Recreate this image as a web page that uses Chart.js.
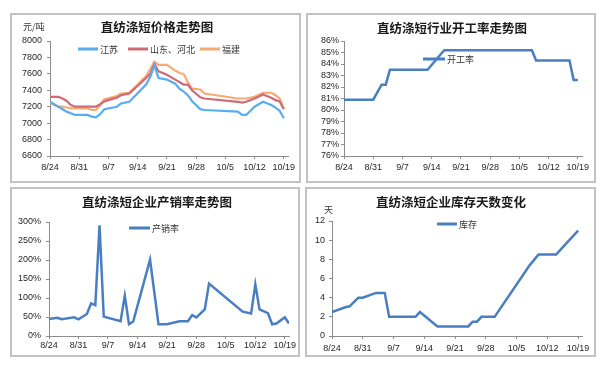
<!DOCTYPE html>
<html>
<head>
<meta charset="utf-8">
<script src="https://cdn.jsdelivr.net/npm/chart.js@4.4.0/dist/chart.umd.min.js"></script>
<style>
  html, body { margin:0; padding:0; background:#fff; }
  body { width:609px; height:368px; position:relative; overflow:hidden;
         font-family:"Noto Sans CJK SC","Noto Sans",sans-serif; }
  .panel { position:absolute; box-sizing:border-box; border:2px solid #c2c2c2; }
  .panel canvas { position:absolute; left:0; top:0; }
  .txt { position:absolute; white-space:nowrap; color:#1a1a1a; line-height:1; }
  .title { font-size:12.5px; font-weight:bold; transform:translate(-50%,-50%); }
  .legend { font-size:9px; color:#333; transform:translateY(-50%); display:flex; align-items:center; }
  .legend i { display:inline-block; width:20px; height:2.5px; margin-right:2px; }
  .unit { font-size:9px; color:#333; transform:translateY(-50%); }
</style>
</head>
<body>

<div class="panel" style="left:10px;top:13px;width:291px;height:170px"><canvas id="cPrice" width="287" height="166"></canvas></div>
<div class="panel" style="left:306px;top:13px;width:290px;height:170px"><canvas id="cRate" width="286" height="166"></canvas></div>
<div class="panel" style="left:10px;top:187px;width:290px;height:170px"><canvas id="cSales" width="286" height="166"></canvas></div>
<div class="panel" style="left:305px;top:187px;width:291px;height:170px"><canvas id="cStock" width="287" height="166"></canvas></div>

<div class="txt title" style="left:157px;top:27px">直纺涤短价格走势图</div>
<div class="txt title" style="left:452px;top:28px">直纺涤短行业开工率走势图</div>
<div class="txt title" style="left:157px;top:202px">直纺涤短企业产销率走势图</div>
<div class="txt title" style="left:451px;top:202px">直纺涤短企业库存天数变化</div>

<div class="txt unit" style="left:23px;top:26px">元/吨</div>
<div class="txt unit" style="left:324px;top:209px">天</div>

<div class="txt legend" style="left:78px;top:49px"><i style="background:#58acf0"></i>江苏</div>
<div class="txt legend" style="left:128px;top:49px"><i style="background:#cf6a76"></i>山东、河北</div>
<div class="txt legend" style="left:200px;top:49px"><i style="background:#f7aa72"></i>福建</div>
<div class="txt legend" style="left:423px;top:59px"><i style="background:#4a7ec2;width:22px"></i>开工率</div>
<div class="txt legend" style="left:129px;top:228px"><i style="background:#4a7ec2;width:21px"></i>产销率</div>
<div class="txt legend" style="left:437px;top:224px"><i style="background:#4a7ec2"></i>库存</div>

<script>
// x positions are day offsets from 8/24; weekly tick labels below
const dateLabels = ['8/24','8/31','9/7','9/14','9/21','9/28','10/5','10/12','10/19'];
const X_MAX = 57;

// 价格 (元/吨)
const priceDays     = [0,2,3,4,5,6,9,10,11,12,13,16,17,19,23,24,25,26,28,30,31,32,33,34,36,37,45,46,47,49,51,53,54,55,56];
const priceJiangsu  = [7260,7200,7170,7140,7120,7100,7100,7080,7070,7110,7170,7200,7240,7260,7470,7560,7700,7550,7530,7480,7420,7385,7340,7270,7170,7160,7140,7100,7100,7200,7260,7220,7190,7150,7060];
const priceShandong = [7320,7320,7300,7270,7220,7200,7200,7200,7200,7230,7265,7310,7340,7360,7550,7600,7720,7630,7590,7530,7500,7470,7470,7400,7315,7300,7260,7250,7260,7300,7350,7310,7280,7265,7170];
const priceFujian   = [7240,7200,7200,7190,7180,7180,7180,7160,7160,7220,7290,7330,7360,7370,7570,7660,7750,7710,7710,7640,7610,7600,7500,7420,7410,7360,7300,7300,7300,7320,7370,7370,7340,7300,7180];

// 开工率 (%)
const rateDays   = [0,7,9,10,11,20,24,45,46,54,55,56];
const rateValues = [80.9,80.9,82.2,82.2,83.5,83.5,85.2,85.2,84.3,84.3,82.6,82.6];

// 产销率 (%)
const salesDays   = [0,2,3,6,7,9,10,11,12,13,17,18,19,20,24,26,28,31,33,34,35,37,38,46,48,49,50,52,53,54,56,57];
const salesValues = [45,48,44,49,44,58,86,81,291,51,39,106,31,38,201,31,31,39,39,55,49,70,138,64,59,136,70,60,31,33,49,33];

// 库存天数
const stockDays   = [0,3,4,6,7,10,12,13,19,20,24,31,32,33,34,37,45,47,51,53,56];
const stockValues = [2.5,3.0,3.1,4.0,4.0,4.5,4.5,2.0,2.0,2.5,1.0,1.0,1.5,1.5,2.0,2.0,7.4,8.5,8.5,9.5,11.0];

const TICK_FONT = { family:'"Liberation Sans", Arial, sans-serif', size:9 };
const TICK_COLOR = '#262626';
const AXIS_GREY = '#8c8c8c';

function pts(days, vals){ return days.map((d,i)=>({ x:d, y:vals[i] })); }

function series(label, days, vals, color, width){
  return { label, data:pts(days, vals), borderColor:color, backgroundColor:color,
           borderWidth:width, pointRadius:0, tension:0, fill:false };
}

function xAxis(h, pad, dash){
  return {
    type:'linear', min:0, max:X_MAX,
    afterFit: s => { s.height = h; },
    ticks:{ stepSize:7, includeBounds:false, autoSkip:false, maxRotation:0, padding:pad,
            color:TICK_COLOR, font:TICK_FONT, callback: v => dateLabels[v/7] ?? '' },
    grid:{ drawOnChartArea:false, tickLength:3, color:AXIS_GREY },
    border:{ color:AXIS_GREY, dash: dash || [] }
  };
}

function yAxis(min, max, step, fmt, w, pad){
  return {
    min, max,
    afterFit: s => { s.width = w; },
    ticks:{ stepSize:step, autoSkip:false, padding:pad, color:TICK_COLOR, font:TICK_FONT, callback:fmt },
    grid:{ drawOnChartArea:false, tickLength:3, color:AXIS_GREY },
    border:{ color:AXIS_GREY }
  };
}

function make(id, datasets, x, y, padding){
  return new Chart(document.getElementById(id), {
    type:'line',
    data:{ datasets },
    options:{
      responsive:false, animation:false,
      layout:{ padding },
      plugins:{ legend:{ display:false }, tooltip:{ enabled:false } },
      scales:{ x, y }
    }
  });
}

const pct = v => v + '%';

make('cPrice', [
    series('江苏', priceDays, priceJiangsu, '#58acf0', 2.2),
    series('山东、河北', priceDays, priceShandong, '#cf6a76', 2.2),
    series('福建', priceDays, priceFujian, '#f7aa72', 2.2)
  ],
  xAxis(20, 3.5), yAxis(6600, 8000, 200, v => v, 38, 5),
  { left:0, top:26, right:11, bottom:5 });

make('cRate', [ series('开工率', rateDays, rateValues, '#4a7ec2', 2.5) ],
  xAxis(20, 3.5), yAxis(76, 86, 1, pct, 36, 2),
  { left:0, top:26, right:12, bottom:5 });

make('cSales', [ series('产销率', salesDays, salesValues, '#4a7ec2', 2.5) ],
  xAxis(16, 1), yAxis(0, 300, 50, pct, 37, 5),
  { left:0, top:33, right:9, bottom:3 });

make('cStock', [ series('库存', stockDays, stockValues, '#4a7ec2', 2.5) ],
  xAxis(16, 4.5, [5,3]), yAxis(0, 12, 2, v => v, 25, 4),
  { left:0, top:32, right:7, bottom:3 });
</script>
</body>
</html>
